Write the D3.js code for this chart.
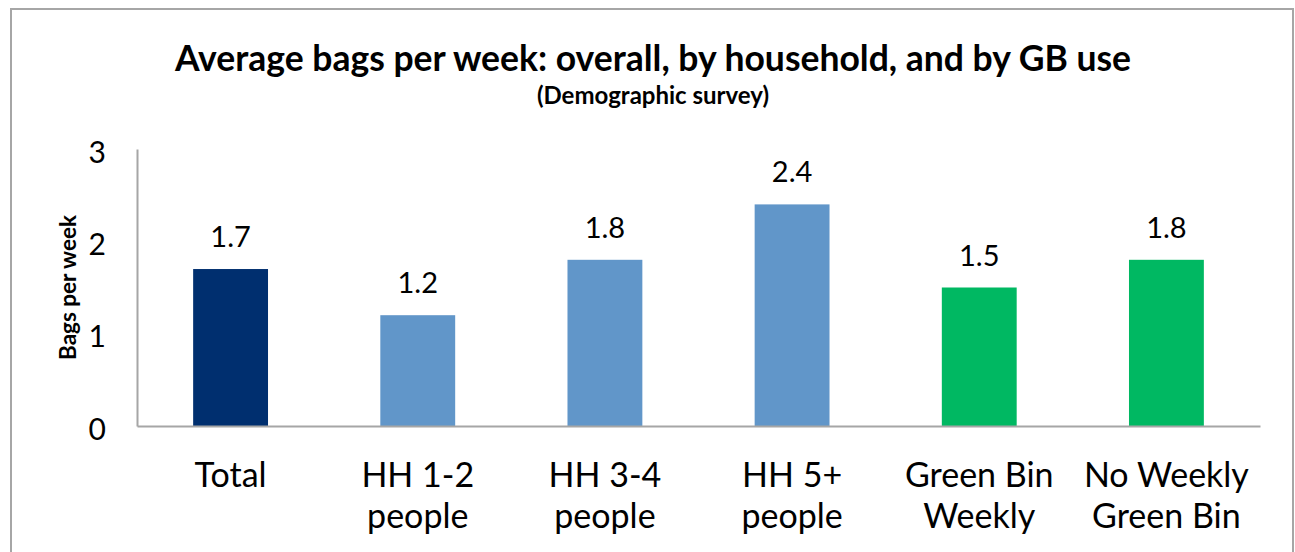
<!DOCTYPE html>
<html>
<head>
<meta charset="utf-8">
<script src="https://cdn.jsdelivr.net/npm/d3@7"></script>
<style>
  body { margin: 0; background: #fff; }
  svg { display: block; font-family: Lato, "Open Sans", sans-serif; }
  .axis .domain { stroke: #a6a6a6; stroke-width: 2; }
</style>
</head>
<body>
<main></main>
<script>
const w = 1295;
const h = 552;

const categories = ['Total', 'HH 1-2', 'HH 3-4', 'HH 5+', 'Green Bin Weekly', 'No Weekly Green Bin'];
const labelLines = [['Total'], ['HH 1-2', 'people'], ['HH 3-4', 'people'], ['HH 5+', 'people'], ['Green Bin', 'Weekly'], ['No Weekly', 'Green Bin']];
const bagsPerWeek = [1.7, 1.2, 1.8, 2.4, 1.5, 1.8];
const groups = ['total', 'household', 'household', 'household', 'greenbin', 'greenbin'];
const yTicks = [0, 1, 2, 3];

const data = categories.map((c, i) => ({ name: c, lines: labelLines[i], value: bagsPerWeek[i], group: groups[i] }));

const color = d3.scaleOrdinal()
  .domain(['total', 'household', 'greenbin'])
  .range(['#002f6f', '#6196c9', '#00b862']);

const plotLeft = 137;
const plotRight = 1260;
const plotTop = 149;
const plotBottom = 426;

const xScale = d3.scaleBand()
  .domain(categories)
  .range([plotLeft, plotRight])
  .paddingInner(0.6)
  .paddingOuter(0.3);

const yScale = d3.scaleLinear()
  .domain([0, 3])
  .range([plotBottom, plotTop]);

const svg = d3.select('main')
  .append('svg')
  .attr('width', w)
  .attr('height', h);

// chart frame
svg.append('rect')
  .attr('x', 11)
  .attr('y', 9)
  .attr('width', 1282)
  .attr('height', 560)
  .attr('fill', 'none')
  .attr('stroke', '#a6a6a6')
  .attr('stroke-width', 2);

svg.append('text')
  .attr('x', 653)
  .attr('y', 71)
  .attr('text-anchor', 'middle')
  .attr('font-size', 35.5)
  .attr('font-weight', 'bold')
  .text('Average bags per week: overall, by household, and by GB use');

svg.append('text')
  .attr('x', 653)
  .attr('y', 104)
  .attr('text-anchor', 'middle')
  .attr('font-size', 24)
  .attr('font-weight', 'bold')
  .text('(Demographic survey)');

svg.selectAll('rect.bar')
  .data(data)
  .enter()
  .append('rect')
  .attr('class', 'bar')
  .attr('x', d => xScale(d.name))
  .attr('y', d => yScale(d.value))
  .attr('width', xScale.bandwidth())
  .attr('height', d => yScale(0) - yScale(d.value))
  .attr('fill', d => color(d.group));

svg.selectAll('text.value')
  .data(data)
  .enter()
  .append('text')
  .attr('class', 'value')
  .attr('x', d => xScale(d.name) + xScale.bandwidth() / 2)
  .attr('y', d => yScale(d.value) - 22)
  .attr('text-anchor', 'middle')
  .attr('font-size', 29)
  .text(d => d3.format('.1f')(d.value));

const yAxis = d3.axisLeft(yScale)
  .tickValues(yTicks)
  .tickSize(0)
  .tickSizeOuter(0)
  .tickPadding(31)
  .tickFormat(d3.format('d'));

const gy = svg.append('g')
  .attr('class', 'axis')
  .attr('transform', `translate(${plotLeft},0)`)
  .call(yAxis);

gy.attr('font-family', null);
gy.selectAll('text')
  .attr('font-size', 30)
  .attr('fill', '#000')
  .attr('dy', '0.44em');

const xAxis = d3.axisBottom(xScale)
  .tickSize(0)
  .tickSizeOuter(0)
  .tickFormat('');

const gx = svg.append('g')
  .attr('class', 'axis')
  .attr('transform', `translate(0,${plotBottom})`)
  .call(xAxis);

gx.attr('font-family', null);
gx.selectAll('.tick text')
  .attr('font-size', 34)
  .attr('fill', '#000')
  .attr('y', 61)
  .attr('dy', 0)
  .each(function(d) {
    const lines = labelLines[categories.indexOf(d)];
    d3.select(this)
      .selectAll('tspan')
      .data(lines)
      .enter()
      .append('tspan')
      .attr('x', 0)
      .attr('dy', (l, i) => (i === 0 ? 0 : 41))
      .text(l => l);
  });

svg.append('text')
  .attr('transform', `translate(76,${(plotTop + plotBottom) / 2}) rotate(-90)`)
  .attr('text-anchor', 'middle')
  .attr('font-size', 22.5)
  .attr('font-weight', 'bold')
  .text('Bags per week');
</script>
</body>
</html>
